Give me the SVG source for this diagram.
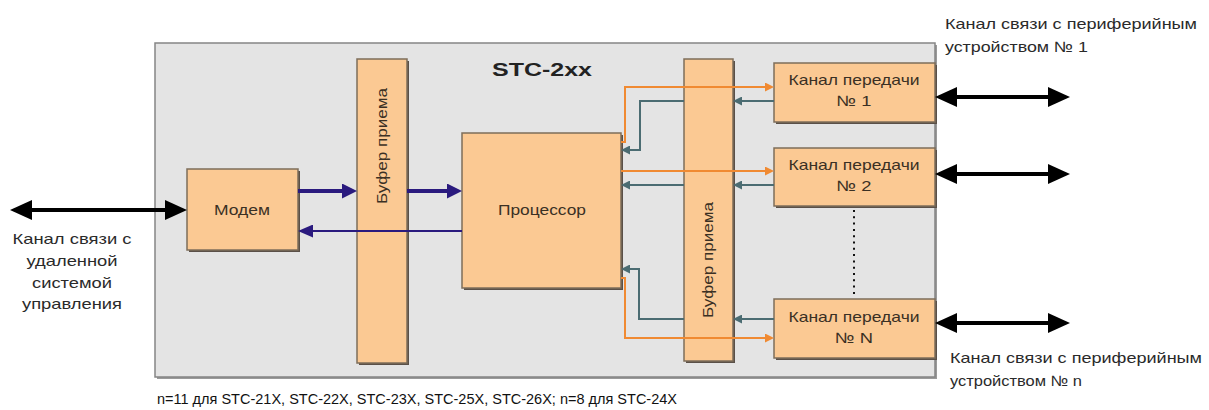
<svg xmlns="http://www.w3.org/2000/svg" width="1209" height="410" viewBox="0 0 1209 410">
<style>
.frame{fill:#e4e4e4;stroke:#858585;stroke-width:1.5}
.box{fill:#fbc993;stroke:#7e6d5a;stroke-width:1.5}
.shadow{fill:#5a5048}
.t{font-family:"Liberation Sans",Arial,sans-serif;font-size:15px;fill:#3a3024}
.o{font-family:"Liberation Sans",Arial,sans-serif;font-size:15px;fill:#2a2a2a}
.title{font-family:"Liberation Sans",Arial,sans-serif;font-size:19px;font-weight:bold;fill:#222}
.note{font-family:"Liberation Sans",Arial,sans-serif;font-size:15px;fill:#111}
.navy{stroke:#2a1a7e;fill:none}
.org{stroke:#f08a32;stroke-width:2;fill:none}
.teal{stroke:#4b6c72;stroke-width:2;fill:none}
.blk{stroke:#000;stroke-width:4;fill:none}
</style>
<defs>
<marker id="mBlk" markerUnits="userSpaceOnUse" viewBox="0 0 22 20" markerWidth="22" markerHeight="20" refX="0" refY="10" orient="auto-start-reverse"><path d="M0,0 L22,10 L0,20 z" fill="#000"/></marker>
<marker id="mNavy" markerUnits="userSpaceOnUse" viewBox="0 0 15 15" markerWidth="15" markerHeight="15" refX="0" refY="7.5" orient="auto"><path d="M0,0 L15,7.5 L0,15 z" fill="#2a1a7e"/></marker>
<marker id="mNavyS" markerUnits="userSpaceOnUse" viewBox="0 0 15 13" markerWidth="15" markerHeight="13" refX="0" refY="6.5" orient="auto"><path d="M0,0 L15,6.5 L0,13 z" fill="#2a1a7e"/></marker>
<marker id="mOrg" markerUnits="userSpaceOnUse" viewBox="0 0 9 9" markerWidth="9" markerHeight="9" refX="0" refY="4.5" orient="auto"><path d="M0,0 L9,4.5 L0,9 z" fill="#f08a32"/></marker>
<marker id="mTeal" markerUnits="userSpaceOnUse" viewBox="0 0 9 9" markerWidth="9" markerHeight="9" refX="0" refY="4.5" orient="auto"><path d="M0,0 L9,4.5 L0,9 z" fill="#4b6c72"/></marker>
</defs>

<g id="frame">
<rect x="157" y="45" width="780" height="334" fill="#9a9a9a"/>
<rect class="frame" x="155" y="43" width="780" height="334"/>
<text class="title" x="542" y="76" text-anchor="middle" textLength="100" lengthAdjust="spacingAndGlyphs">STC-2xx</text>
</g>

<g id="buffer1">
<rect class="shadow" x="359" y="61" width="50" height="304"/>
<rect class="box" x="357" y="59" width="50" height="304"/>
<text class="t" transform="translate(387,146) rotate(-90)" text-anchor="middle" textLength="116" lengthAdjust="spacingAndGlyphs">Буфер приема</text>
</g>

<g id="buffer2">
<rect class="shadow" x="686" y="61" width="49" height="302"/>
<rect class="box" x="684" y="59" width="49" height="302"/>
<text class="t" transform="translate(713,260) rotate(-90)" text-anchor="middle" textLength="116" lengthAdjust="spacingAndGlyphs">Буфер приема</text>
</g>

<g id="modem">
<rect class="shadow" x="189" y="171" width="111" height="81"/>
<rect class="box" x="187" y="169" width="111" height="81"/>
<text class="t" x="242" y="215" text-anchor="middle" textLength="56" lengthAdjust="spacingAndGlyphs">Модем</text>
</g>

<g id="processor">
<rect class="shadow" x="464" y="135" width="159" height="155"/>
<rect class="box" x="462" y="133" width="159" height="155"/>
<text class="t" x="542" y="215" text-anchor="middle" textLength="88" lengthAdjust="spacingAndGlyphs">Процессор</text>
</g>

<g id="channel1">
<rect class="shadow" x="776" y="65" width="161" height="59"/>
<rect class="box" x="774" y="63" width="161" height="59"/>
<text class="t" x="854" y="85" text-anchor="middle" textLength="131" lengthAdjust="spacingAndGlyphs">Канал передачи</text>
<text class="t" x="854" y="106" text-anchor="middle" textLength="35" lengthAdjust="spacingAndGlyphs">№ 1</text>
</g>

<g id="channel2">
<rect class="shadow" x="776" y="150" width="161" height="58"/>
<rect class="box" x="774" y="148" width="161" height="58"/>
<text class="t" x="854" y="170" text-anchor="middle" textLength="131" lengthAdjust="spacingAndGlyphs">Канал передачи</text>
<text class="t" x="854" y="191" text-anchor="middle" textLength="35" lengthAdjust="spacingAndGlyphs">№ 2</text>
</g>

<g id="channelN">
<rect class="shadow" x="776" y="301" width="161" height="59"/>
<rect class="box" x="774" y="299" width="161" height="59"/>
<text class="t" x="854" y="322" text-anchor="middle" textLength="131" lengthAdjust="spacingAndGlyphs">Канал передачи</text>
<text class="t" x="854" y="343" text-anchor="middle" textLength="38" lengthAdjust="spacingAndGlyphs">№ N</text>
</g>

<g id="connectors">
<line x1="854" y1="210" x2="854" y2="296" stroke="#111" stroke-width="2" stroke-dasharray="2 4.3"/>
<line class="navy" stroke-width="4" x1="298" y1="191" x2="342" y2="191" marker-end="url(#mNavy)"/>
<line class="navy" stroke-width="4" x1="407" y1="191" x2="447" y2="191" marker-end="url(#mNavy)"/>
<line class="navy" stroke-width="2" x1="462" y1="231" x2="313" y2="231" marker-end="url(#mNavyS)"/>
<polyline class="org" points="621,142 625,142 625,87 765,87" marker-end="url(#mOrg)"/>
<polyline class="teal" points="684,101 640,101 640,150 630,150" marker-end="url(#mTeal)"/>
<line class="teal" x1="774" y1="101" x2="742" y2="101" marker-end="url(#mTeal)"/>
<line class="org" x1="621" y1="171" x2="765" y2="171" marker-end="url(#mOrg)"/>
<line class="teal" x1="774" y1="185" x2="742" y2="185" marker-end="url(#mTeal)"/>
<line class="teal" x1="684" y1="185" x2="630" y2="185" marker-end="url(#mTeal)"/>
<line class="teal" x1="774" y1="319" x2="742" y2="319" marker-end="url(#mTeal)"/>
<polyline class="teal" points="684,319 639,319 639,269 630,269" marker-end="url(#mTeal)"/>
<polyline class="org" points="621,278 625,278 625,338 765,338" marker-end="url(#mOrg)"/>
<line class="blk" x1="32" y1="210" x2="165" y2="210" marker-start="url(#mBlk)" marker-end="url(#mBlk)"/>
<line class="blk" x1="957" y1="97" x2="1048" y2="97" marker-start="url(#mBlk)" marker-end="url(#mBlk)"/>
<line class="blk" x1="957" y1="174" x2="1048" y2="174" marker-start="url(#mBlk)" marker-end="url(#mBlk)"/>
<line class="blk" x1="957" y1="323" x2="1048" y2="323" marker-start="url(#mBlk)" marker-end="url(#mBlk)"/>
</g>

<g id="labels">
<text class="o" x="72" y="244" text-anchor="middle" textLength="119" lengthAdjust="spacingAndGlyphs">Канал связи с</text>
<text class="o" x="72" y="266" text-anchor="middle" textLength="91" lengthAdjust="spacingAndGlyphs">удаленной</text>
<text class="o" x="72" y="288" text-anchor="middle" textLength="80" lengthAdjust="spacingAndGlyphs">системой</text>
<text class="o" x="72" y="309" text-anchor="middle" textLength="100" lengthAdjust="spacingAndGlyphs">управления</text>
<text class="o" x="945" y="29" textLength="252" lengthAdjust="spacingAndGlyphs">Канал связи с периферийным</text>
<text class="o" x="945" y="52" textLength="143" lengthAdjust="spacingAndGlyphs">устройством № 1</text>
<text class="o" x="950" y="363" textLength="252" lengthAdjust="spacingAndGlyphs">Канал связи с периферийным</text>
<text class="o" x="950" y="386" textLength="132" lengthAdjust="spacingAndGlyphs">устройством № n</text>
<text class="note" x="157" y="404" textLength="520" lengthAdjust="spacingAndGlyphs">n=11 для STC-21X, STC-22X, STC-23X, STC-25X, STC-26X; n=8 для STC-24X</text>
</g>
</svg>
